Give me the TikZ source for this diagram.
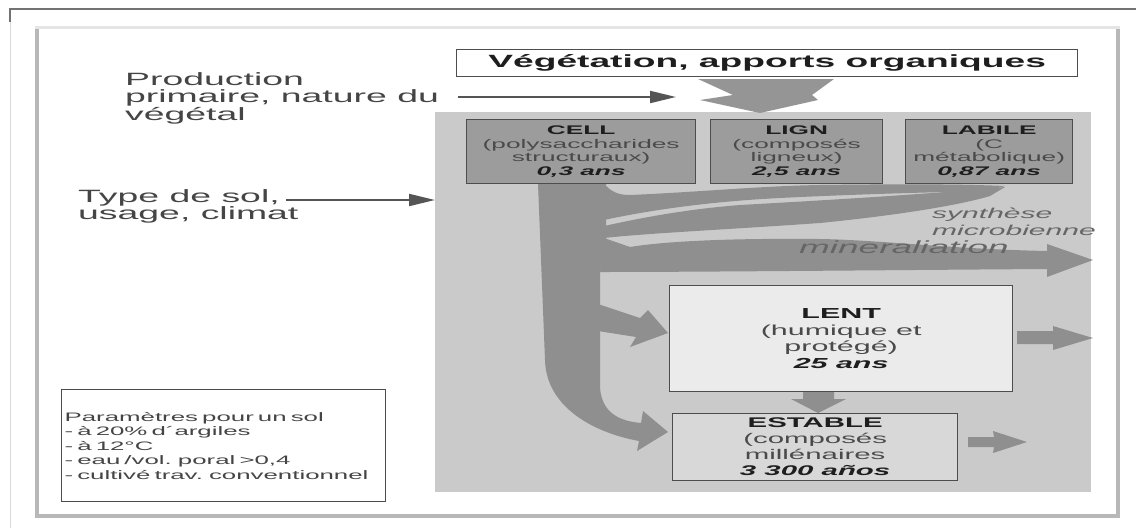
\documentclass[tikz,border=0pt]{standalone}
\usepackage{fontspec}
\setmainfont{Liberation Sans}[FakeStretch=2.1]
\usetikzlibrary{arrows.meta}
\definecolor{flow}{HTML}{8F8F8F}
\definecolor{soilc}{HTML}{CACACA}
\definecolor{boxd}{HTML}{9C9C9C}
\definecolor{bord}{HTML}{4D4D4D}
\definecolor{lentc}{HTML}{EBEBEB}
\definecolor{estc}{HTML}{D8D8D8}
\definecolor{txt}{HTML}{454545}
\definecolor{boxt}{HTML}{4A4A4A}
\definecolor{dark}{HTML}{1E1E1E}
\definecolor{ital}{HTML}{666666}
\definecolor{arr}{HTML}{555555}
\begin{document}
\begin{tikzpicture}[x=1pt,y=-1pt,
  lbl/.style={inner sep=0pt, align=left, text=txt, anchor=north west, font=\fontsize{17.8}{17.5}\selectfont},
  topbox/.style={draw=bord, line width=1.3pt, fill=boxd, inner sep=0pt, align=center, text=boxt, anchor=north west, minimum height=64pt, font=\fontsize{12.5}{13.8}\selectfont},
  lowbox/.style={draw=bord, line width=1.3pt, inner sep=0pt, align=center, text=boxt, anchor=north west},
  thinarr/.style={draw=arr, line width=2pt, -{Triangle[length=26pt,width=12pt]}},
  itlbl/.style={inner sep=0pt, anchor=base west, text=ital, font=\fontsize{14.3}{17}\itshape}
]
\useasboundingbox (0,0) rectangle (1136,531);
\fill[white] (0,0) rectangle (1136,531);
% page frame
\draw[line width=1.5pt, black!55] (10,22) -- (10,9) -- (1136,9);
\draw[line width=1pt, black!15] (10,22) -- (10,528);
% panel with shadow
\fill[black!28] (35,26) rectangle (1120,518);
\fill[black!10] (35,26) rectangle (1120,29);
\fill[white] (39,29) rectangle (1116,514);
% soil area
\node[fill=soilc, inner sep=0pt, minimum width=656pt, minimum height=380pt, anchor=north west] (soil) at (435,112) {};
% title box and big down arrow
\node[lowbox, fill=white, minimum width=621pt, minimum height=27pt, text=dark, font=\fontsize{17.7}{20}\bfseries\selectfont] (veg) at (456,49) {Végétation, apports organiques};
\fill[flow!95] (698,79) -- (834,79) -- (812,95) -- (818,100) -- (760,113) -- (700,100) -- (733,95) -- cycle;
% flows
\fill[flow] (538,184) -- (606,184) -- (606,240) -- (600,272) -- (600,388)
  .. controls (602,412) and (618,421) .. (641,423) -- (643,411) -- (668,432) -- (637,451) -- (639,441)
  .. controls (590,432) and (546,405) .. (545,360) -- cycle;
\fill[flow] (604,184) .. controls (612,192) and (618,195) .. (630,195)
  .. controls (700,192) and (760,186) .. (820,185) .. controls (900,184) and (960,184) .. (1005,186)
  -- (985,191) .. controls (900,193) and (840,195) .. (780,198)
  .. controls (720,201) and (660,208) .. (604,220) -- cycle;
\fill[flow] (604,226) .. controls (650,216) and (690,209) .. (740,205)
  .. controls (830,200) and (930,194) .. (1005,187) -- (990,196)
  .. controls (960,205) and (900,215) .. (820,223)
  .. controls (720,230) and (650,233) .. (604,238) -- cycle;
\fill[flow] (600,272) .. controls (700,272) and (900,270) .. (1047,269) -- (1047,277) -- (1093,260)
  -- (1047,244) -- (1047,251) .. controls (950,249) and (880,240) .. (820,239)
  .. controls (720,238) and (660,242) .. (630,247) -- (604,238) -- cycle;
\fill[flow] (598,304) -- (640,318) -- (648,310) -- (668,333) -- (630,347) -- (636,337) -- (598,331) -- cycle;
% top boxes
\node[topbox, minimum width=229pt] (cell) at (466,119) {{\color{dark}\bfseries CELL}\\(polysaccharides\\structuraux)\\{\color{dark}\bfseries\itshape 0,3 ans}};
\node[topbox, minimum width=172pt] (lign) at (710,119) {{\color{dark}\bfseries LIGN}\\(composés\\ligneux)\\{\color{dark}\bfseries\itshape 2,5 ans}};
\node[topbox, minimum width=167pt] (labile) at (905,119) {{\color{dark}\bfseries LABILE}\\(C\\métabolique)\\{\color{dark}\bfseries\itshape 0,87 ans}};
% lower boxes
\node[lowbox, fill=lentc, minimum width=343pt, minimum height=106pt, font=\fontsize{14.5}{16.7}\selectfont] (lent) at (669,285) {{\color{dark}\bfseries LENT}\\(humique et\\protégé)\\{\color{dark}\bfseries\itshape 25 ans}};
\node[lowbox, fill=estc, minimum width=285pt, minimum height=67pt, font=\fontsize{14}{16}\selectfont] (estable) at (672,413) {{\color{dark}\bfseries ESTABLE}\\(composés\\millénaires\\{\color{dark}\bfseries\itshape 3 300 años}};
% block arrows out of lower boxes
\fill[flow] (1017,331) -- (1053,331) -- (1053,326) -- (1093,338) -- (1053,350) -- (1053,344) -- (1017,344) -- cycle;
\fill[flow] (968,437) -- (994,437) -- (993,431) -- (1027,442) -- (993,453) -- (994,447) -- (968,447) -- cycle;
\fill[flow] (803,392) -- (834,392) -- (834,399) -- (846,399) -- (818,413) -- (791,399) -- (803,399) -- cycle;
% italic flow labels
\node[itlbl] (synth) at (932,218) {synthèse};
\node[itlbl] (micro) at (932,235) {microbienne};
\node[itlbl, font=\fontsize{17.6}{20}\itshape] (miner) at (799,253) {mineraliation};
% outside labels
\node[lbl] (prod) at (125,72) {Production\\primaire, nature du\\végétal};
\coordinate (prodend) at (676,97);
\draw[thinarr] (458,97) -- (prodend);
\node[lbl] (type) at (78,189) {Type de sol,\\usage, climat};
\coordinate (typestart) at (286,200);
\draw[thinarr] (typestart) -- (soil.west |- typestart);
% parameters box
\node[draw=bord, line width=1.2pt, fill=white, inner xsep=2pt, inner ysep=0pt, minimum width=324pt, minimum height=112pt, text width=318pt, align=left, anchor=north west, text=txt, font=\fontsize{12.3}{14.5}\selectfont] (params) at (61,389) {Paramètres pour un sol\\- à 20\% d´argiles\\- à 12°C\\- eau /vol. poral >0,4\\- cultivé trav. conventionnel};
\end{tikzpicture}
\end{document}
